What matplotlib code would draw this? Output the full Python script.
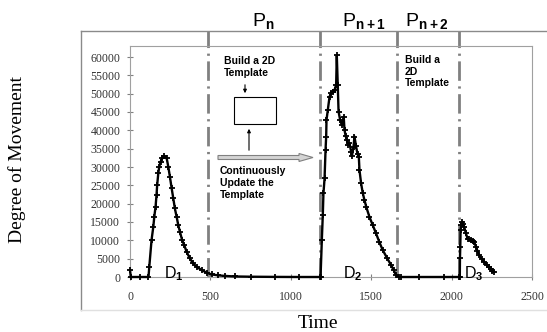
import numpy as np
import matplotlib
matplotlib.use("Agg")
import matplotlib.pyplot as plt
from matplotlib.lines import Line2D
from matplotlib.patches import Rectangle, FancyArrow, FancyArrowPatch

# readings of the three detection bursts (time, degree of movement)
time_d1 = [0, 5, 60, 115, 120, 134, 145, 151, 159, 165, 169, 176, 182, 190, 201, 213,
           228, 238, 248, 259, 269, 279, 290, 300, 310, 324, 337, 352, 372, 393, 414,
           445, 476, 507, 548, 589, 650, 750, 900, 1050, 1180]
move_d1 = [1900, 0, 0, 0, 2800, 10100, 13700, 16400, 19200, 22400, 25100, 28300, 30100,
           31400, 32400, 33000, 32400, 30100, 27400, 24200, 21500, 18700, 16400, 14200,
           12400, 10100, 8700, 6900, 5100, 3700, 2800, 1900, 1200, 700, 450, 300, 150,
           80, 30, 0, 0]

time_d2 = [1185, 1193, 1199, 1203, 1210, 1216, 1220, 1222, 1230, 1241, 1251, 1262, 1272,
           1282, 1286, 1292, 1297, 1307, 1317, 1329, 1334, 1341, 1348, 1357, 1365, 1375,
           1380, 1390, 1396, 1406, 1415, 1423, 1427, 1437, 1447, 1458, 1470, 1489, 1510,
           1530, 1550, 1571, 1597, 1623, 1640, 1654, 1670, 1685, 1800, 1950, 2045]
move_d2 = [0, 10100, 16900, 22800, 26900, 34600, 38300, 42800, 45500, 49200, 50100, 50500,
           51000, 52400, 60500, 52400, 45100, 42800, 41500, 43700, 40100, 38500, 37400,
           36000, 36500, 34200, 33000, 35500, 38300, 35600, 33500, 32800, 29200, 25600,
           23000, 21000, 19000, 16400, 14100, 11900, 9600, 7400, 5300, 3300, 1900, 550,
           100, 0, 0, 0, 0]

time_d3 = [2051, 2052, 2054, 2056, 2060, 2064, 2070, 2078, 2089, 2099, 2110, 2120, 2130,
           2140, 2151, 2160, 2171, 2186, 2202, 2218, 2233, 2245, 2254, 2265]
move_d3 = [0, 5100, 8300, 12800, 14200, 15100, 14500, 13700, 11900, 10500, 10300, 10100,
           9900, 9600, 8300, 7200, 6000, 5000, 4200, 3300, 2600, 2100, 1700, 1400]

phase_bounds = [482, 1179, 1658, 2045]
phase_names = [r"$\mathrm{P}_{\mathbf{n}}$", r"$\mathrm{P}_{\mathbf{n+1}}$", r"$\mathrm{P}_{\mathbf{n+2}}$"]
burst_names = [r"$\mathrm{D}_{\mathbf{1}}$", r"$\mathrm{D}_{\mathbf{2}}$", r"$\mathrm{D}_{\mathbf{3}}$"]
burst_x = [211, 1327, 2078]

y_ticks = list(range(0, 60001, 5000))
x_ticks = [0, 500, 1000, 1500, 2000, 2500]

plt.rcParams["mathtext.fontset"] = "custom"
plt.rcParams["mathtext.rm"] = "Liberation Sans"
plt.rcParams["mathtext.bf"] = "Liberation Sans:bold"

W, H = 547, 332
fig = plt.figure(figsize=(W / 100, H / 100), dpi=100)
fig.patch.set_facecolor("white")


def px(x, y):
    return x / W, 1 - y / H


ax = fig.add_axes([130 / W, 1 - 277 / H, 402 / W, 231 / H])

t = time_d1 + time_d2 + time_d3
m = move_d1 + move_d2 + move_d3
ax.plot(t, m, color="black", lw=1.7, marker="+", ms=4, mew=1.3, clip_on=False, zorder=3)

for xb in phase_bounds:
    ax.axvline(xb, ymin=0, ymax=1.065, clip_on=False, color="#808080", lw=2,
               dashes=(7, 2, 0.8, 2), zorder=2)

ax.set_xlim(0, 2500)
ax.set_ylim(0, 63000)
ax.set_xticks(x_ticks)
ax.set_yticks(y_ticks)
for s in ax.spines.values():
    s.set_color("#a0a0a0")
    s.set_linewidth(0.8)
ax.tick_params(direction="inout", length=4, width=0.8, color="#808080",
               labelcolor="#333333", labelsize=8.5)
ax.tick_params(axis="y", pad=5)
ax.tick_params(axis="x", pad=8)
for lab in ax.get_xticklabels() + ax.get_yticklabels():
    lab.set_fontfamily("Liberation Serif")

ax.set_xlabel("Time", fontsize=14, family="Liberation Serif")
ax.xaxis.set_label_coords(0.468, -0.165)
ax.set_ylabel("Degree of Movement", fontsize=14, family="Liberation Serif")
ax.yaxis.set_label_coords(-0.258, 0.51)

for name, xd in zip(burst_names, burst_x):
    ax.text(xd, -300, name, fontsize=11.5, ha="left", va="baseline", zorder=4)

# outer frame
grey = "#8a8a8a"
fig.add_artist(Line2D([81 / W, 1], [1 - 31 / H] * 2, color=grey, lw=1, transform=fig.transFigure))
fig.add_artist(Line2D([81 / W] * 2, [1 - 31 / H, 1 - 310 / H], color=grey, lw=1, transform=fig.transFigure))
fig.add_artist(Line2D([81 / W, 1], [1 - 310 / H] * 2, color="#e0e0e0", lw=1, transform=fig.transFigure))

# phase titles
for name, xp in zip(phase_names, [252, 342, 405]):
    fig.text(*px(xp, 27), name, fontsize=14, ha="left", va="baseline")

# annotations
fig.text(*px(224, 56), "Build a 2D\nTemplate", fontsize=7.5, weight="bold",
         family="Liberation Sans", ha="left", va="top", linespacing=1.2)
fig.text(*px(220, 166), "Continuously\nUpdate the\nTemplate", fontsize=7.5, weight="bold",
         family="Liberation Sans", ha="left", va="top", linespacing=1.25)
fig.text(*px(405, 55), "Build a\n2D\nTemplate", fontsize=7.5, weight="bold",
         family="Liberation Sans", ha="left", va="top", linespacing=1.2)

x0, y0 = px(234, 124)
fig.add_artist(Rectangle((x0, y0), 42 / W, 27 / H, fill=False, ec="black", lw=0.8,
                         transform=fig.transFigure))
fig.add_artist(FancyArrowPatch(px(245, 82), px(245, 96), arrowstyle="-|>", mutation_scale=5,
                               lw=0.8, color="black", transform=fig.transFigure))
fig.add_artist(FancyArrowPatch(px(249, 153), px(249, 126), arrowstyle="-|>", mutation_scale=5,
                               lw=0.8, color="black", transform=fig.transFigure))
ax_, ay_ = px(218, 157.5)
fig.add_artist(FancyArrow(ax_, ay_, 95 / W, 0, width=4 / H, head_width=8 / H,
                          head_length=14 / W, length_includes_head=True,
                          fc="#d4d4d4", ec="#808080", lw=0.8, transform=fig.transFigure))

fig.savefig("out.png", dpi=100)
